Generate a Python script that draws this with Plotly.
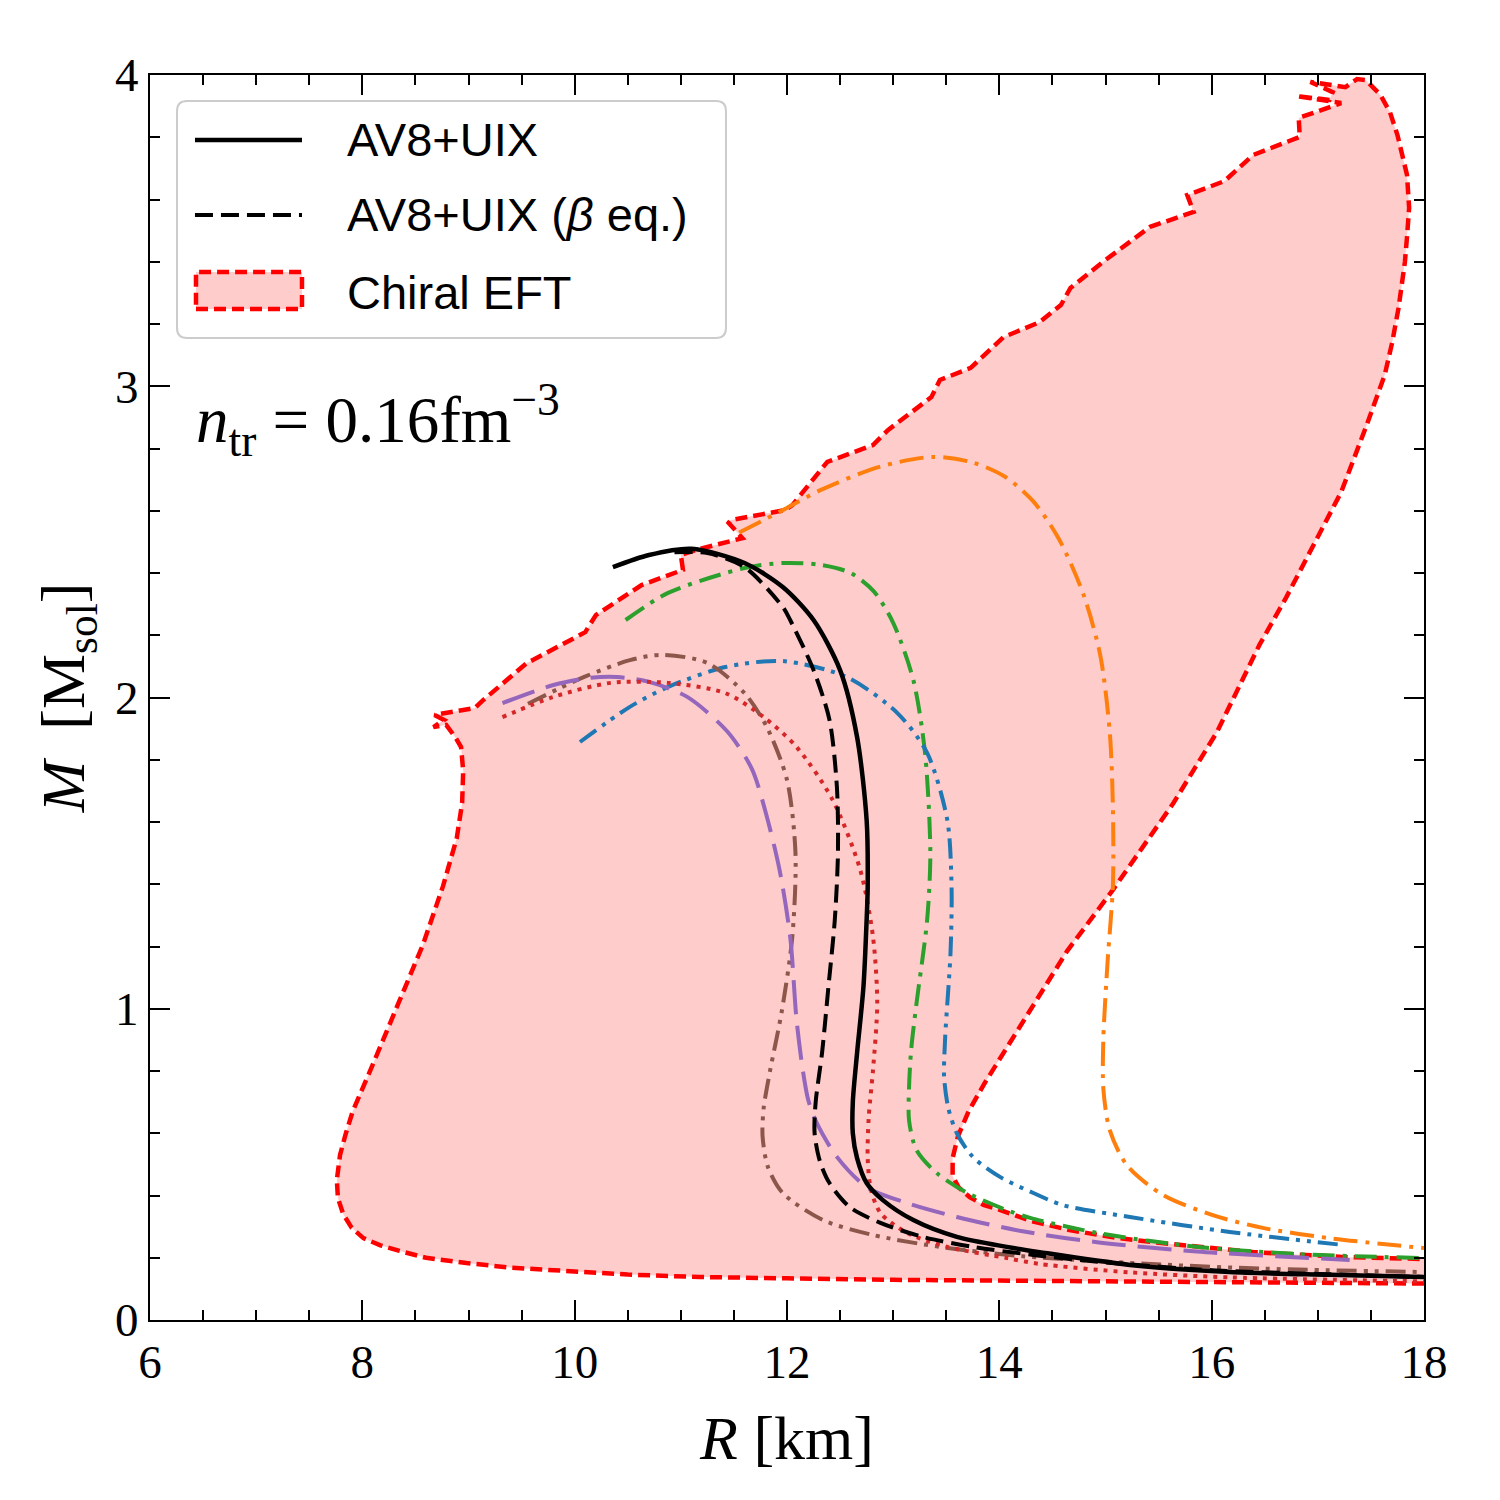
import plotly.graph_objects as go

# ---------------- data ----------------
# Chiral EFT band outline: (R [km], M [Msol])
BAND = [(18.0, 0.117), (17.0, 0.119), (16.0, 0.121), (15.0, 0.123), (14.0, 0.126),
        (13.0, 0.129), (12.0, 0.134), (11.18, 0.138), (10.5, 0.146), (9.93, 0.157),
        (9.40, 0.168), (8.98, 0.183), (8.60, 0.200), (8.35, 0.222), (8.17, 0.240),
        (8.01, 0.263), (7.90, 0.296), (7.82, 0.340), (7.77, 0.392), (7.76, 0.450),
        (7.79, 0.530), (7.84, 0.594), (7.91, 0.671), (8.10, 0.822), (8.35, 1.028),
        (8.57, 1.205), (8.76, 1.394), (8.89, 1.549), (8.94, 1.661), (8.95, 1.764),
        (8.93, 1.841), (8.88, 1.870),
        (8.79, 1.912), (8.67, 1.905), (8.77, 1.928), (8.68, 1.944), (9.06, 1.966),
        (9.14, 1.992), (9.55, 2.111), (9.61, 2.121), (10.10, 2.210), (10.20, 2.265),
        (10.63, 2.361), (11.02, 2.410), (11.00, 2.458), (11.14, 2.474), (11.58, 2.512),
        (11.45, 2.561), (11.47, 2.570), (11.98, 2.602), (12.05, 2.618), (12.38, 2.757),
        (12.81, 2.811), (12.95, 2.859), (13.36, 2.965), (13.44, 3.020), (13.73, 3.059),
        (14.04, 3.158), (14.38, 3.206), (14.58, 3.261), (14.67, 3.316), (15.00, 3.406),
        (15.42, 3.512), (15.83, 3.560), (15.77, 3.614), (16.12, 3.659), (16.39, 3.743),
        (16.83, 3.801), (16.82, 3.862), (17.22, 3.910), (16.80, 3.932), (17.11, 3.920),
        (17.14, 3.945), (16.93, 3.978), (17.26, 3.961), (17.37, 3.987), (17.45, 3.984),
        (17.59, 3.936), (17.68, 3.880), (17.75, 3.807), (17.84, 3.679), (17.86, 3.573),
        (17.84, 3.480), (17.82, 3.399), (17.76, 3.251), (17.70, 3.140), (17.63, 3.036),
        (17.45, 2.866), (17.22, 2.660), (16.94, 2.480), (16.70, 2.320), (16.45, 2.169),
        (16.05, 1.889), (15.64, 1.661), (15.07, 1.382), (14.64, 1.186), (14.30, 1.000),
        (14.01, 0.842), (13.86, 0.760), (13.71, 0.670), (13.61, 0.590), (13.56, 0.520),
        (13.56, 0.462), (13.62, 0.425), (13.72, 0.395), (13.85, 0.370), (14.01, 0.353),
        (14.30, 0.318), (14.66, 0.289), (15.10, 0.264), (15.53, 0.247), (16.40, 0.218),
        (17.26, 0.202), (18.0, 0.196)]

AV8_UIX = [(10.36, 2.419), (10.70, 2.458), (11.10, 2.478), (11.60, 2.432), (11.96, 2.355),
           (12.25, 2.249), (12.50, 2.088), (12.66, 1.873), (12.75, 1.606), (12.76, 1.391),
           (12.75, 1.285), (12.72, 1.070), (12.66, 0.858), (12.62, 0.700), (12.62, 0.600),
           (12.66, 0.520), (12.75, 0.440), (12.90, 0.386), (13.19, 0.321), (13.60, 0.267),
           (14.07, 0.235), (14.38, 0.218), (15.23, 0.177), (16.17, 0.154), (17.11, 0.145),
           (18.0, 0.138)]

AV8_UIX_BETA = [(10.94, 2.467), (11.25, 2.464), (11.60, 2.419), (11.96, 2.291), (12.03, 2.249),
                (12.25, 2.088), (12.40, 1.928), (12.47, 1.712), (12.48, 1.500), (12.45, 1.285),
                (12.39, 1.070), (12.33, 0.858), (12.27, 0.700), (12.26, 0.600), (12.31, 0.510),
                (12.40, 0.440), (12.59, 0.363), (12.88, 0.312), (13.28, 0.267), (13.75, 0.235),
                (14.32, 0.209), (15.0, 0.185), (16.0, 0.160), (17.0, 0.148), (18.0, 0.138)]

EOS_ORANGE = [(11.55, 2.53), (11.96, 2.602), (12.32, 2.667), (12.87, 2.741), (13.37, 2.773),
              (13.75, 2.755), (14.05, 2.710), (14.32, 2.630), (14.56, 2.510), (14.79, 2.333),
              (14.95, 2.137), (15.04, 1.889), (15.07, 1.645), (15.07, 1.398), (15.02, 1.153),
              (14.98, 0.906), (14.98, 0.742), (15.04, 0.610), (15.20, 0.498), (15.54, 0.402),
              (16.01, 0.337), (16.48, 0.296), (17.11, 0.263), (18.0, 0.231)]

EOS_GREEN = [(10.48, 2.249), (10.88, 2.336), (11.60, 2.416), (11.96, 2.432), (12.32, 2.426),
             (12.60, 2.400), (12.82, 2.340), (13.00, 2.240), (13.19, 2.056), (13.30, 1.822),
             (13.35, 1.500), (13.32, 1.285), (13.22, 1.018), (13.17, 0.870), (13.15, 0.750),
             (13.15, 0.640), (13.22, 0.546), (13.41, 0.472), (13.70, 0.408), (14.07, 0.353),
             (14.29, 0.328), (14.92, 0.280), (15.86, 0.235), (16.80, 0.212), (18.0, 0.199)]

EOS_BLUE = [(10.05, 1.857), (10.52, 1.970), (10.88, 2.034), (11.42, 2.098), (11.96, 2.117),
            (12.56, 2.066), (13.04, 1.950), (13.32, 1.822), (13.51, 1.606), (13.55, 1.391),
            (13.54, 1.179), (13.49, 0.909), (13.48, 0.780), (13.52, 0.680), (13.60, 0.600),
            (13.75, 0.524), (14.01, 0.459), (14.32, 0.408), (14.60, 0.369), (15.23, 0.331),
            (16.17, 0.283), (17.24, 0.241)]

EOS_PURPLE = [(9.32, 1.982), (9.80, 2.040), (10.14, 2.063), (10.40, 2.066), (10.70, 2.050),
              (11.06, 2.002), (11.44, 1.890), (11.67, 1.770), (11.80, 1.630), (11.93, 1.446),
              (12.03, 1.231), (12.09, 0.964), (12.15, 0.800), (12.20, 0.707), (12.28, 0.633),
              (12.47, 0.524), (12.75, 0.427), (13.13, 0.376), (13.60, 0.331), (14.22, 0.285),
              (14.92, 0.250), (15.86, 0.220), (17.30, 0.193)]

EOS_BROWN = [(9.56, 1.980), (10.09, 2.066), (10.52, 2.120), (10.83, 2.137), (11.25, 2.111),
             (11.60, 2.014), (11.81, 1.905), (12.00, 1.735), (12.08, 1.500), (12.05, 1.231),
             (11.95, 0.990), (11.84, 0.800), (11.78, 0.680), (11.77, 0.590), (11.82, 0.492),
             (11.96, 0.408), (12.34, 0.321), (12.81, 0.273), (13.44, 0.235), (14.22, 0.205),
             (15.54, 0.178), (16.48, 0.165), (18.0, 0.154)]

EOS_RED = [(9.32, 1.937), (9.80, 2.002), (10.34, 2.047), (10.88, 2.047), (11.42, 2.014),
           (11.78, 1.937), (12.09, 1.841), (12.43, 1.671), (12.69, 1.446), (12.81, 1.231),
           (12.85, 1.018), (12.81, 0.803), (12.77, 0.652), (12.76, 0.520), (12.79, 0.420),
           (12.88, 0.344), (13.13, 0.280), (13.51, 0.235), (14.07, 0.199), (14.38, 0.180),
           (15.23, 0.153), (16.17, 0.137), (18.0, 0.124)]

LEGEND_LABELS = ["AV8+UIX", "AV8+UIX (<i>β</i> eq.)", "Chiral EFT"]
X_TICKS = [6, 8, 10, 12, 14, 16, 18]
Y_TICKS = [0, 1, 2, 3, 4]


def xs(pts):
    return [p[0] for p in pts]


def ys(pts):
    return [p[1] for p in pts]


SERIF = "Liberation Serif"
SANS = "Liberation Sans"
BAND_FILL = "rgba(255,0,0,0.2)"
BAND_LINE = dict(color="#ff0000", width=4.5, dash="12px,6px")

fig = go.Figure()

# band fill
fig.add_trace(go.Scatter(x=xs(BAND), y=ys(BAND), mode="lines", fill="toself",
                         fillcolor=BAND_FILL, line=dict(width=0),
                         name=LEGEND_LABELS[2], showlegend=False, hoverinfo="skip"))
# band outline
fig.add_trace(go.Scatter(x=xs(BAND), y=ys(BAND), mode="lines", line=BAND_LINE,
                         showlegend=False, hoverinfo="skip"))

curves = [
    (EOS_ORANGE, "#ff7f0e", "24px,8px,4px,8px"),
    (EOS_GREEN, "#2ca02c", "22px,8px,4px,8px"),
    (EOS_BLUE, "#1f77b4", "20px,7px,4px,7px,4px,7px"),
    (EOS_BROWN, "#8c564b", "20px,7px,4px,7px,4px,7px"),
    (EOS_PURPLE, "#9467bd", "34px,12px"),
    (EOS_RED, "#d62728", "4px,6px"),
]
for pts, col, dash in curves:
    fig.add_trace(go.Scatter(x=xs(pts), y=ys(pts), mode="lines",
                             line=dict(color=col, width=4, dash=dash,
                                       shape="spline", smoothing=0.8),
                             showlegend=False))

fig.add_trace(go.Scatter(x=xs(AV8_UIX_BETA), y=ys(AV8_UIX_BETA), mode="lines",
                         line=dict(color="black", width=4, dash="18px,8px",
                                   shape="spline", smoothing=0.8),
                         name=LEGEND_LABELS[1], showlegend=False))
fig.add_trace(go.Scatter(x=xs(AV8_UIX), y=ys(AV8_UIX), mode="lines",
                         line=dict(color="black", width=4.5, shape="spline", smoothing=0.8),
                         name=LEGEND_LABELS[0], showlegend=False))

# ---------------- custom legend (paper coords) ----------------
x0, x1, y0, y1 = 0.0212, 0.4521, 0.7888, 0.9791
rx, ry = 0.0079, 0.0080
path = (f"M {x0+rx},{y0} L {x1-rx},{y0} Q {x1},{y0} {x1},{y0+ry} "
        f"L {x1},{y1-ry} Q {x1},{y1} {x1-rx},{y1} L {x0+rx},{y1} "
        f"Q {x0},{y1} {x0},{y1-ry} L {x0},{y0+ry} Q {x0},{y0} {x0+rx},{y0} Z")
shapes = [
    dict(type="path", xref="paper", yref="paper", path=path,
         fillcolor="rgba(255,255,255,0.8)", line=dict(color="#cccccc", width=2)),
    dict(type="line", xref="paper", yref="paper", x0=0.0353, x1=0.1193, y0=0.9478, y1=0.9478,
         line=dict(color="black", width=4.5)),
    dict(type="line", xref="paper", yref="paper", x0=0.0353, x1=0.1193, y0=0.8876, y1=0.8876,
         line=dict(color="black", width=4, dash="18px,8px")),
    dict(type="rect", xref="paper", yref="paper", x0=0.0361, x1=0.1193, y0=0.8120, y1=0.8418,
         fillcolor=BAND_FILL, line=BAND_LINE),
]
annotations = []
for lab, yy in zip(LEGEND_LABELS, [0.9478, 0.8876, 0.8257]):
    annotations.append(dict(xref="paper", yref="paper", x=0.1531, y=yy, text=lab,
                            showarrow=False, xanchor="left", yanchor="middle",
                            font=dict(family=SANS, size=47, color="black")))
annotations.append(dict(xref="paper", yref="paper", x=0.0345, y=0.7229,
                        text="<i>n</i><sub>tr</sub> = 0.16fm<sup>−3</sup>",
                        showarrow=False, xanchor="left", yanchor="middle",
                        font=dict(family=SERIF, size=65, color="black")))

axis_common = dict(ticks="inside", ticklen=20, tickwidth=1.5, tickcolor="black",
                   mirror="allticks", showline=True, linecolor="black", linewidth=2,
                   showgrid=False, zeroline=False,
                   tickfont=dict(family=SERIF, size=47, color="black"))

fig.update_layout(
    width=1500, height=1500,
    margin=dict(l=150, r=76, t=75, b=180),
    paper_bgcolor="white", plot_bgcolor="white",
    showlegend=False,
    shapes=shapes, annotations=annotations,
    xaxis=dict(range=[6, 18], tickmode="array", tickvals=X_TICKS,
               ticktext=[str(v) for v in X_TICKS],
               minor=dict(ticks="inside", ticklen=10, tickwidth=1.5, tickcolor="black",
                          dtick=0.5, tick0=6, showgrid=False),
               title=dict(text="<i>R</i> [km]", font=dict(family=SERIF, size=62, color="black"),
                          standoff=28),
               **axis_common),
    yaxis=dict(range=[0, 4], tickmode="array", tickvals=Y_TICKS,
               ticktext=[str(v) for v in Y_TICKS],
               minor=dict(ticks="inside", ticklen=10, tickwidth=1.5, tickcolor="black",
                          dtick=0.2, tick0=0, showgrid=False),
               title=dict(text="<i>M</i>  [M<sub>sol</sub>]",
                          font=dict(family=SERIF, size=62, color="black"), standoff=10),
               **axis_common),
)

fig.write_html("out.html")
